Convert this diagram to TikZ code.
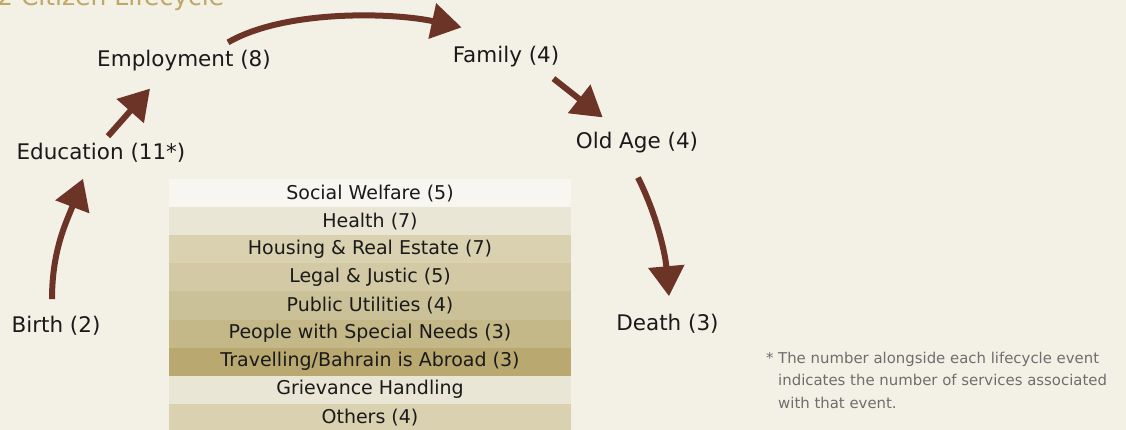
\documentclass[tikz,border=0pt]{standalone}
\usepackage{fontspec}
\setmainfont{DejaVu Sans}
\usetikzlibrary{arrows.meta}
\definecolor{bg}{RGB}{243,240,230}
\definecolor{ink}{RGB}{26,26,26}
\definecolor{arrowc}{RGB}{108,52,38}
\definecolor{gold}{RGB}{190,168,100}
\definecolor{notegray}{RGB}{110,110,110}
\definecolor{r1}{RGB}{247,246,241}
\definecolor{r2}{RGB}{234,230,214}
\definecolor{r3}{RGB}{217,209,176}
\definecolor{r4}{RGB}{211,202,165}
\definecolor{r5}{RGB}{203,193,153}
\definecolor{r6}{RGB}{196,184,137}
\definecolor{r7}{RGB}{185,168,112}
\begin{document}
\begin{tikzpicture}[x=1pt,y=-1pt,
  lbl/.style={inner sep=0pt, text=ink, font=\fontsize{21.5}{26}\selectfont},
  arr/.style={draw=arrowc, line width=6pt, -{Triangle[length=30pt,width=35pt]}},
  row/.style={minimum width=402pt, minimum height=28.1pt, inner sep=0pt, outer sep=0pt,
    anchor=north west, font=\fontsize{19}{22}\selectfont, text=ink},
  foot/.style={inner sep=0pt, text=notegray, align=left, font=\fontsize{14.9}{22.5}\selectfont}]
\useasboundingbox (0,0) rectangle (1126,430);
\fill[bg] (0,0) rectangle (1126,430);

\node[anchor=base west, inner sep=0pt, text=gold, font=\fontsize{25}{30}\selectfont] (title) at (-3,6) {2 Citizen Lifecycle};

\node[lbl] (birth) at (56,326) {Birth (2)};
\node[lbl] (edu) at (101,153) {Education (11*)};
\node[lbl] (emp) at (184,61) {Employment (8)};
\node[lbl] (fam) at (506,57) {Family (4)};
\node[lbl] (old) at (637,143) {Old Age (4)};
\node[lbl] (death) at (667.5,324) {Death (3)};

\draw[arr] ([xshift=-4pt,yshift=17pt]birth.north) .. controls +(0,-50) and +(-16,42) .. ([xshift=-18pt,yshift=-16pt]edu.south);
\draw[arr] ([xshift=7pt,yshift=7pt]edu.north) -- ([xshift=-34pt,yshift=-17pt]emp.south);
\draw[arr] ([xshift=44pt,yshift=8pt]emp.north) .. controls +(57,-33) and +(-69,-15) .. ([xshift=9pt,yshift=19pt]fam.north west);
\draw[arr] ([xshift=-6pt,yshift=-11pt]fam.south east) -- ([xshift=27pt,yshift=15pt]old.north west);
\draw[arr] ([xshift=1pt,yshift=-24pt]old.south) .. controls +(18,36) and +(-4,-45) .. ([xshift=1.5pt,yshift=18pt]death.north);

\node[row, fill=r1] (t1) at (169,179) {Social Welfare (5)};
\node[row, fill=r2] (t2) at (t1.south west) {Health (7)};
\node[row, fill=r3] (t3) at (t2.south west) {Housing \& Real Estate (7)};
\node[row, fill=r4] (t4) at (t3.south west) {Legal \& Justic (5)};
\node[row, fill=r5] (t5) at (t4.south west) {Public Utilities (4)};
\node[row, fill=r6] (t6) at (t5.south west) {People with Special Needs (3)};
\node[row, fill=r7] (t7) at (t6.south west) {Travelling/Bahrain is Abroad (3)};
\node[row, fill=r2] (t8) at (t7.south west) {Grievance Handling};
\node[row, fill=r3] (t9) at (t8.south west) {Others (4)};

\node[foot, anchor=north west] (note) at (778,351.5) {\llap{*\ }The number alongside each lifecycle event\\indicates the number of services associated\\with that event.};
\end{tikzpicture}
\end{document}
